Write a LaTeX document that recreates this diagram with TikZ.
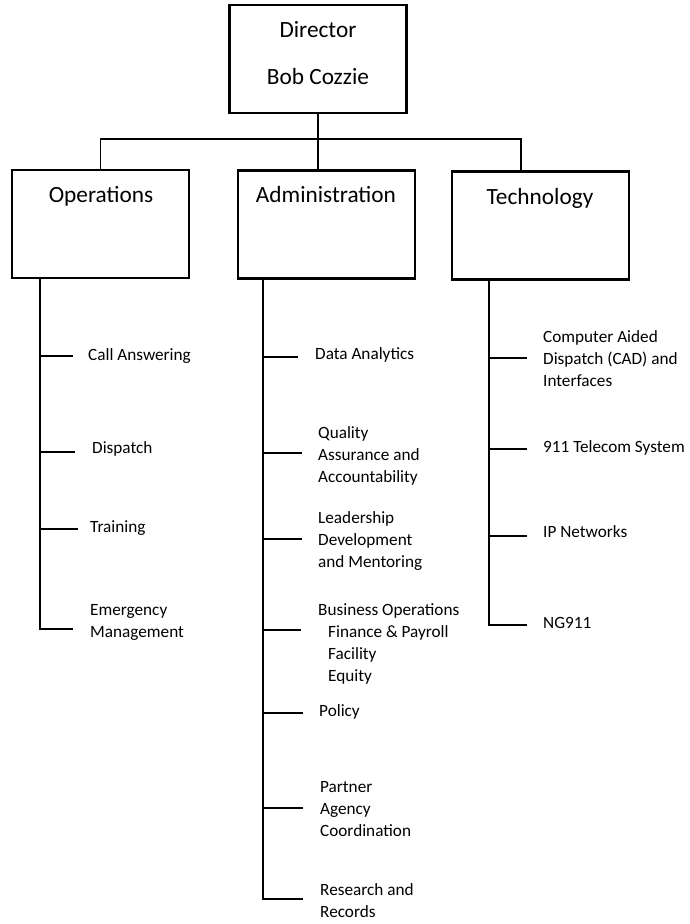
\documentclass[tikz,border=0pt]{standalone}
\usepackage{fontspec}
\setmainfont{Carlito}
\usetikzlibrary{positioning}

\begin{document}
\begin{tikzpicture}[x=1pt,y=-1pt,
    unitbox/.style={draw,line width=2.8pt,minimum width=177pt,minimum height=108pt,inner sep=0pt},
    headtext/.style={font=\fontsize{23.3}{28}\selectfont,inner sep=0pt,anchor=base},
    leaf/.style={font=\fontsize{17.2}{22}\selectfont,align=left,anchor=west,inner sep=0pt},
    link/.style={line width=1.8pt}]
  \useasboundingbox (0,0) rectangle (689,924);

% boxes
  \node[unitbox] (dir)  at (318,59) {};
  \node[unitbox] (ops)  at (100.5,224) {};
  \node[unitbox] (adm)  at (326.5,224.5) {};
  \node[unitbox] (tech) at (540.5,225.5) {};

  \node[headtext] (dirtitle) at (318,37)  {Director};
  \node[headtext] (dirname)  at (318,84)  {Bob Cozzie};
  \node[headtext] (opstitle) at (101,202) {Operations};
  \node[headtext] (admtitle) at (326,202) {Administration};
  \node[headtext] (techtitle) at (540,204) {Technology};

% director down to the three units
  \coordinate (barmid) at (dir.south |- 0,139);
  \coordinate (barr)   at (521,139);
  \draw[link] (dir.south) -- (barmid) -- (barmid |- adm.north);
  \draw[link] (ops.north) |- (barr) -- (barr |- tech.north);

% Operations
  \coordinate (ops1) at (73,356);
  \coordinate (ops2) at (75,452);
  \coordinate (ops3) at (78,529);
  \coordinate (ops4) at (73,629);
  \coordinate (ops0) at (ops.south -| 40,0);
  \draw[link] (ops0) |- (ops4);
  \draw[link] (ops0 |- ops1) -- (ops1);
  \draw[link] (ops0 |- ops2) -- (ops2);
  \draw[link] (ops0 |- ops3) -- (ops3);
  \node[leaf] (callans)  at (88,356) {Call Answering};
  \node[leaf] (dispatch) at (92,449) {Dispatch};
  \node[leaf] (training) at (90,528) {Training};
  \node[leaf] (emerg)    at (90,622) {Emergency\\Management};

% Administration
  \coordinate (adm1) at (298,357);
  \coordinate (adm2) at (302,453);
  \coordinate (adm3) at (302,539);
  \coordinate (adm4) at (301,630);
  \coordinate (adm5) at (303,713);
  \coordinate (adm6) at (303,808);
  \coordinate (adm7) at (303,899);
  \coordinate (adm0) at (adm.south -| 263,0);
  \draw[link] (adm0) |- (adm7);
  \draw[link] (adm0 |- adm1) -- (adm1);
  \draw[link] (adm0 |- adm2) -- (adm2);
  \draw[link] (adm0 |- adm3) -- (adm3);
  \draw[link] (adm0 |- adm4) -- (adm4);
  \draw[link] (adm0 |- adm5) -- (adm5);
  \draw[link] (adm0 |- adm6) -- (adm6);
  \node[leaf] (data)     at (315,355) {Data Analytics};
  \node[leaf] (quality)  at (318,456) {Quality\\Assurance and\\Accountability};
  \node[leaf] (leader)   at (318,541) {Leadership\\Development\\and Mentoring};
  \node[leaf] (business) at (318,644) {Business Operations\\\hspace*{10pt}Finance \& Payroll\\\hspace*{10pt}Facility\\\hspace*{10pt}Equity};
  \node[leaf] (policy)   at (319,712) {Policy};
  \node[leaf] (partner)  at (320,809) {Partner\\Agency\\Coordination};
  \node[leaf] (research) at (320,901) {Research and\\Records};

% Technology
  \coordinate (tech1) at (527,358);
  \coordinate (tech2) at (527,449);
  \coordinate (tech3) at (527,536);
  \coordinate (tech4) at (527,625);
  \coordinate (tech0) at (tech.south -| 489,0);
  \draw[link] (tech0) |- (tech4);
  \draw[link] (tech0 |- tech1) -- (tech1);
  \draw[link] (tech0 |- tech2) -- (tech2);
  \draw[link] (tech0 |- tech3) -- (tech3);
  \node[leaf] (cad)     at (543,359) {Computer Aided\\Dispatch (CAD) and\\Interfaces};
  \node[leaf] (telecom) at (543,448) {911 Telecom System};
  \node[leaf] (ipnet)   at (543,532) {IP Networks};
  \node[leaf] (ng)      at (543,623) {NG911};

\end{tikzpicture}
\end{document}
